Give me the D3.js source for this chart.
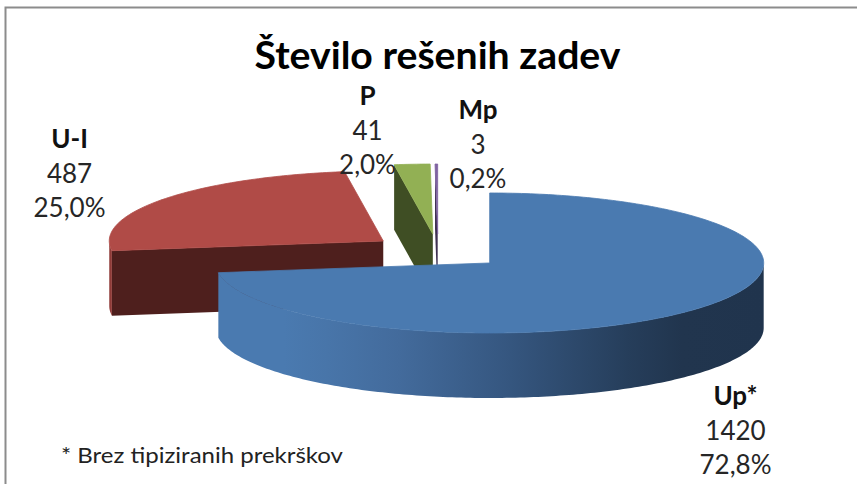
<!DOCTYPE html>
<html><head><meta charset="utf-8">
<script src="https://d3js.org/d3.v7.min.js"></script>
<style>html,body{margin:0;background:#fff}svg{display:block}text{font-family:Lato,"Noto Sans",sans-serif}</style>
</head><body><svg width="857" height="484"></svg>
<script>
// Data
const categories = ["Up*", "U-I", "P", "Mp"];
const values = [1420, 487, 41, 3];
const percentLabels = ["72,8%", "25,0%", "2,0%", "0,2%"];
const titleText = "Število rešenih zadev";
const noteText = "* Brez tipiziranih prekrškov";

// Style and layout
const W = 857, H = 484;
const topColors = ["#4a7ab0", "#b04b47", "#92b054", "#7f63a1"];
const wallColors = ["#22364f", "#4e1f1d", "#3f4e24", "#3f3152"];
const rimColors = ["url(#blueRim)", "#8f3a37", "#3f4e24", "#3f3152"];
const labelPos = [[735.5, 405], [69.5, 148], [367.5, 105], [478, 119]];
const lineGap = 34.5;
const center = {x: 438, y: 251.5}, rx = 274, ry = 70, depth = 65, explode = 0.25;

const svg = d3.select("svg");
const defs = svg.append("defs");
const grad = defs.append("linearGradient").attr("id", "blueRim")
  .attr("gradientUnits", "userSpaceOnUse")
  .attr("x1", 218).attr("x2", 764).attr("y1", 0).attr("y2", 0);
[[0, "#4a7ab0"], [0.12, "#4a7ab0"], [0.2, "#4875a9"], [0.33, "#436b9c"], [0.535, "#35567f"], [0.75, "#263e5b"], [0.85, "#21354e"], [1, "#20344d"]]
  .forEach(([o, c]) => grad.append("stop").attr("offset", o).attr("stop-color", c));

// Frame
svg.append("path").attr("d", `M5.5 ${H}V7.5H${W}`).attr("fill", "none")
  .attr("stroke", "#8c8c8c").attr("stroke-width", 2);

// Pie geometry via d3.pie, projected through linear scales onto an ellipse
const pie = d3.pie().sort(null).value(d => d)(values);
const xs = d3.scaleLinear().domain([-1, 1]).range([-rx, rx]);
const ys = d3.scaleLinear().domain([-1, 1]).range([-ry, ry]);
const line = d3.line();

function wedgeOrigin(d) {
  const m = (d.startAngle + d.endAngle) / 2;
  return [center.x + xs(explode * Math.sin(m)), center.y + ys(-explode * Math.cos(m))];
}
function rimPt(o, a) { return [o[0] + xs(Math.sin(a)), o[1] + ys(-Math.cos(a))]; }
function arcPts(o, a0, a1) {
  const n = Math.max(2, Math.ceil((a1 - a0) * 60));
  return d3.range(n + 1).map(i => rimPt(o, a0 + (a1 - a0) * i / n));
}

const drawOrder = [1, 3, 2, 0];
drawOrder.forEach(i => {
  const d = pie[i], o = wedgeOrigin(d), g = svg.append("g");
  // start-side cut wall
  const s = rimPt(o, d.startAngle);
  g.append("path").attr("fill", wallColors[i]).attr("d",
    line([s, o, [o[0], o[1] + depth], [s[0], s[1] + depth]]) + "Z");
  // outer rim: the front half, angles pi/2 to 3pi/2
  const a0 = Math.max(d.startAngle, Math.PI / 2), a1 = Math.min(d.endAngle, 3 * Math.PI / 2);
  if (a1 > a0) {
    const up = arcPts(o, a0, a1);
    const down = up.slice().reverse().map(p => [p[0], p[1] + depth]);
    g.append("path").attr("fill", rimColors[i]).attr("d", line(up.concat(down)) + "Z");
  }
  // top face, with a hairline of its own colour to close the seam against the rim
  g.append("path").attr("fill", topColors[i]).attr("stroke", topColors[i]).attr("stroke-width", 0.8)
    .attr("d", line([o].concat(arcPts(o, d.startAngle, d.endAngle))) + "Z");
});

// Title and note
svg.append("text").attr("x", 437.5).attr("y", 69).attr("text-anchor", "middle")
  .attr("font-size", 38).attr("font-weight", 700).attr("fill", "#000")
  .attr("textLength", 366).attr("lengthAdjust", "spacingAndGlyphs").text(titleText);
svg.append("text").attr("x", 61).attr("y", 463).attr("font-size", 22).attr("fill", "#222")
  .attr("textLength", 282).attr("lengthAdjust", "spacingAndGlyphs").text(noteText);

// Labels
categories.forEach((c, i) => {
  const [x, y] = labelPos[i];
  const t = svg.append("g").attr("text-anchor", "middle").attr("font-size", 26).attr("fill", "#262626");
  t.append("text").attr("x", x).attr("y", y).attr("font-weight", 700).attr("fill", "#111").text(c);
  t.append("text").attr("x", x).attr("y", y + lineGap).text(values[i]);
  t.append("text").attr("x", x).attr("y", y + 2 * lineGap).text(percentLabels[i]);
});
</script></body></html>
